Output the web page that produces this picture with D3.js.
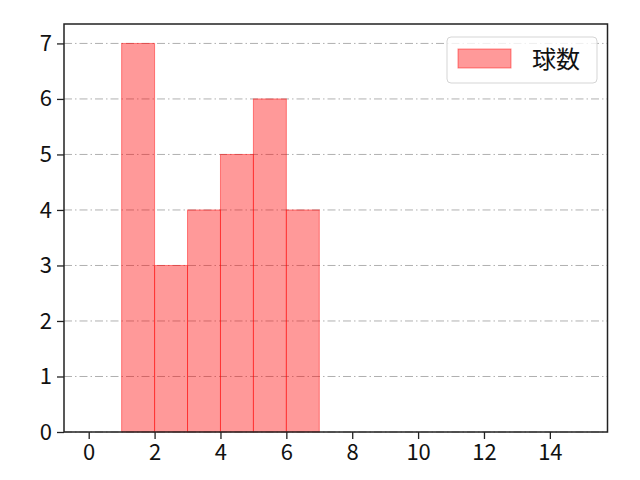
<!DOCTYPE html>
<html>
<head>
<meta charset="utf-8">
<script src="https://cdn.jsdelivr.net/npm/d3@7"></script>
<style>
  body { margin: 0; background: #fff; }
  svg text { font-family: "Noto Sans CJK JP", "DejaVu Sans", sans-serif; }
</style>
</head>
<body>
<script>
// histogram bins (left edge, right edge) and counts
var binStarts = [1, 2, 3, 4, 5, 6];
var binEnds = [2, 3, 4, 5, 6, 7];
var counts = [7, 3, 4, 5, 6, 4];
var xTicks = [0, 2, 4, 6, 8, 10, 12, 14];
var yTicks = [0, 1, 2, 3, 4, 5, 6, 7];
var seriesName = "球数";

window.onload = drawChart();

function drawChart(){
    var width = 640,
        height = 480;
    var margin = {left: 64, right: 32.5, top: 24, bottom: 48};

    var svg = d3.select("body")
        .append("svg")
        .attr("width", width)
        .attr("height", height);

    var x = d3.scaleLinear()
        .domain([-0.75, 15.75])
        .range([margin.left, width - margin.right]);
    var y = d3.scaleLinear()
        .domain([0, 7.35])
        .range([height - margin.bottom, margin.top]);

    //dash-dot horizontal grid
    svg.append("g")
        .selectAll("line")
        .data(yTicks)
        .enter()
        .append("line")
        .attr("x1", margin.left)
        .attr("x2", width - margin.right)
        .attr("y1", function(d){ return y(d); })
        .attr("y2", function(d){ return y(d); })
        .attr("stroke", "#b0b0b0")
        .attr("stroke-width", 1)
        .attr("stroke-dasharray", "8,3,1.5,3");

    //bars
    svg.append("g")
        .selectAll("rect")
        .data(counts)
        .enter()
        .append("rect")
        .attr("x", function(d, i){ return x(binStarts[i]); })
        .attr("width", function(d, i){ return x(binEnds[i]) - x(binStarts[i]); })
        .attr("y", function(d){ return y(d); })
        .attr("height", function(d){ return y(0) - y(d); })
        .attr("fill", "rgba(255,0,0,0.4)")
        .attr("stroke", "rgba(255,0,0,0.45)")
        .attr("stroke-width", 1);

    //axes
    var xAxis = svg.append("g")
        .attr("transform", "translate(0," + y(0) + ")")
        .call(d3.axisBottom(x).tickValues(xTicks).tickSize(7).tickPadding(5));
    var yAxis = svg.append("g")
        .attr("transform", "translate(" + margin.left + ",0)")
        .call(d3.axisLeft(y).tickValues(yTicks).tickSize(7).tickPadding(5));
    [xAxis, yAxis].forEach(function(a){
        a.attr("font-size", null).attr("font-family", null);
        a.select(".domain").remove();
        a.selectAll("line").attr("stroke", "#222").attr("stroke-width", 1.3);
        a.selectAll("text").style("font-size", "22px").attr("fill", "#111");
    });

    //frame
    svg.append("rect")
        .attr("x", margin.left)
        .attr("y", margin.top)
        .attr("width", width - margin.right - margin.left)
        .attr("height", height - margin.bottom - margin.top)
        .attr("fill", "none")
        .attr("stroke", "#222")
        .attr("stroke-width", 1.5);

    //legend
    var lg = svg.append("g").attr("transform", "translate(447,37)");
    lg.append("rect")
        .attr("width", 150).attr("height", 46)
        .attr("rx", 4)
        .attr("fill", "rgba(255,255,255,0.8)")
        .attr("stroke", "#d5d5d5");
    lg.append("rect")
        .attr("x", 11).attr("y", 12)
        .attr("width", 53).attr("height", 19)
        .attr("fill", "rgba(255,0,0,0.4)")
        .attr("stroke", "rgba(255,0,0,0.45)");
    lg.append("text")
        .attr("x", 85).attr("y", 31)
        .style("font-size", "24px")
        .attr("fill", "#111")
        .text(seriesName);
}
</script>
</body>
</html>
